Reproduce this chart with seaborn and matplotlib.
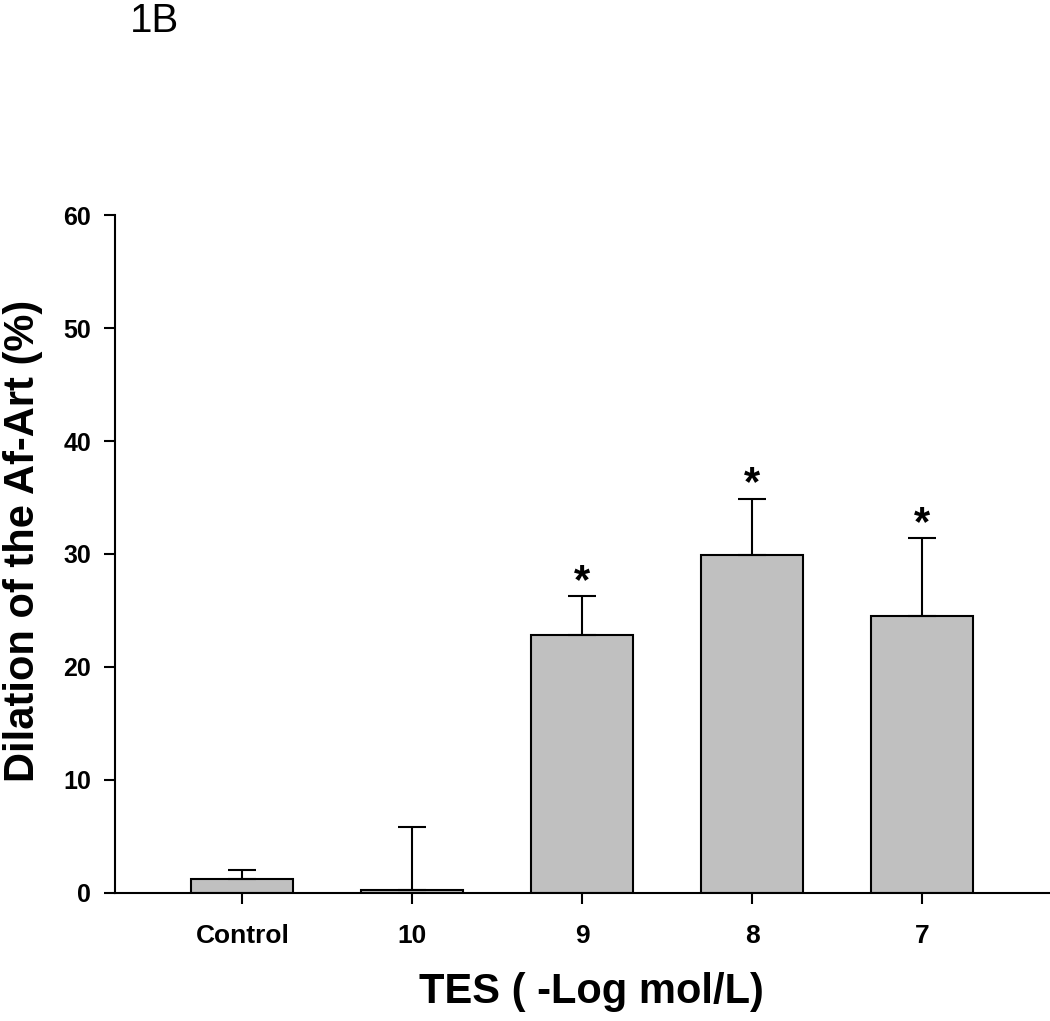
import pandas as pd
import matplotlib
matplotlib.use('Agg')
import matplotlib.pyplot as plt
import seaborn as sns

# Data
groups = ['Control', '10', '9', '8', '7']
dilation = [1.25, 0.25, 22.8, 29.95, 24.5]
sem = [0.8, 5.6, 3.45, 4.95, 6.9]
significant = [False, False, True, True, True]

df = pd.DataFrame({'group': groups, 'dilation': dilation, 'sem': sem})

sns.set_style('ticks')
plt.rcParams['font.family'] = ['Liberation Sans', 'DejaVu Sans']
plt.rcParams['text.color'] = 'black'
plt.rcParams['axes.labelcolor'] = 'black'
plt.rcParams['xtick.color'] = 'black'
plt.rcParams['ytick.color'] = 'black'
plt.rcParams['axes.edgecolor'] = 'black'

fig = plt.figure(figsize=(10.5, 10.21), dpi=100)
ax = fig.add_axes([0.1095, 0.1254, 0.8905, 0.664])

sns.barplot(data=df, x='group', y='dilation', order=groups, color='#c0c0c0',
            edgecolor='black', linewidth=1.5, width=0.6, saturation=1,
            errorbar=None, ax=ax)

# upper error bars only
ax.errorbar(range(len(groups)), df['dilation'], yerr=[[0] * len(groups), df['sem']],
            fmt='none', ecolor='black', elinewidth=1.5, capsize=10, capthick=1.5)

# significance markers
for i, (v, e, s) in enumerate(zip(dilation, sem, significant)):
    if s:
        ax.text(i, v + e - 0.5, '*', ha='center', va='bottom',
                fontsize=30, fontweight='bold')

ax.set_xlim(-0.75, 4.75)
ax.set_ylim(0, 60)
ax.set_yticks(range(0, 61, 10))

for side in ['top', 'right']:
    ax.spines[side].set_visible(False)
for side in ['left', 'bottom']:
    ax.spines[side].set_linewidth(1.5)

ax.tick_params(axis='both', direction='out', length=8, width=1.5)
ax.tick_params(axis='x', labelsize=19, pad=14)
ax.tick_params(axis='y', labelsize=18, pad=9)
for lab in ax.get_xticklabels() + ax.get_yticklabels():
    lab.set_fontweight('bold')

ax.set_xlabel('TES ( -Log mol/L)', fontsize=30, fontweight='bold')
ax.set_ylabel('Dilation of the Af-Art (%)', fontsize=30, fontweight='bold')
ax.xaxis.set_label_coords(0.51, -0.117)
ax.yaxis.set_label_coords(-0.0765, 0.52)

fig.text(0.124, 0.998, '1B', fontsize=29, va='top', ha='left')

fig.savefig('out.png', dpi=100)
